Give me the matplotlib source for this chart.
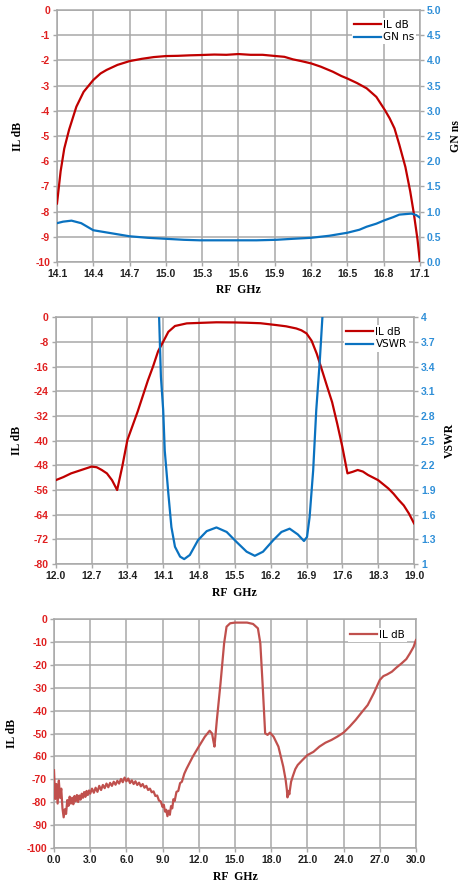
import numpy as np
import matplotlib
matplotlib.use('Agg')
import matplotlib.pyplot as plt

# Chart 1: IL and group delay, 14.1-17.1 GHz
f1 = [14.10, 14.13, 14.16, 14.20, 14.26, 14.32, 14.40, 14.46, 14.51, 14.60, 14.70, 14.80,
      14.90, 15.00, 15.10, 15.20, 15.28, 15.40, 15.50, 15.60, 15.70, 15.80, 15.91, 15.98,
      16.05, 16.12, 16.20, 16.28, 16.38, 16.45, 16.50, 16.58, 16.66, 16.74, 16.81, 16.85,
      16.89, 16.93, 16.98, 17.02, 17.05, 17.08, 17.10]
il1 = [-7.68, -6.40, -5.50, -4.75, -3.84, -3.25, -2.78, -2.52, -2.38, -2.18, -2.03, -1.94,
       -1.87, -1.83, -1.82, -1.80, -1.79, -1.77, -1.78, -1.75, -1.78, -1.78, -1.83, -1.86,
       -1.96, -2.03, -2.12, -2.25, -2.45, -2.62, -2.72, -2.90, -3.11, -3.45, -3.97, -4.30,
       -4.70, -5.35, -6.23, -7.20, -8.08, -9.10, -10.0]
f1g = [14.10, 14.15, 14.22, 14.30, 14.40, 14.55, 14.70, 14.85, 15.00, 15.15, 15.28, 15.45,
       15.56, 15.75, 15.91, 16.05, 16.20, 16.35, 16.50, 16.60, 16.66, 16.74, 16.81, 16.88,
       16.93, 16.98, 17.03, 17.07, 17.10]
gn1 = [0.77, 0.80, 0.82, 0.77, 0.63, 0.57, 0.51, 0.48, 0.46, 0.44, 0.43, 0.43,
       0.43, 0.43, 0.44, 0.46, 0.48, 0.52, 0.58, 0.64, 0.70, 0.76, 0.83, 0.89,
       0.94, 0.95, 0.96, 0.93, 0.88]

# Chart 2: IL and VSWR, 12-19 GHz
f2 = [12.0, 12.15, 12.3, 12.5, 12.7, 12.8, 12.9, 13.0, 13.1, 13.2, 13.3, 13.4, 13.5, 13.6,
      13.8, 13.9, 14.0, 14.1, 14.2, 14.33, 14.56, 14.8, 15.14, 15.5, 15.73, 16.0, 16.31,
      16.5, 16.7, 16.8, 16.9, 17.0, 17.1, 17.2, 17.3, 17.4, 17.5, 17.6, 17.7, 17.8, 17.9,
      18.0, 18.1, 18.3, 18.5, 18.6, 18.7, 18.8, 18.9, 19.0]
il2 = [-52.8, -51.8, -50.6, -49.5, -48.4, -48.6, -49.5, -50.6, -52.8, -56.0, -48.4, -39.8,
       -35.2, -30.6, -20.5, -16.0, -11.0, -7.9, -4.7, -2.8, -1.95, -1.8, -1.6, -1.65, -1.74,
       -1.9, -2.5, -2.9, -3.6, -4.2, -5.2, -7.6, -11.8, -17.0, -22.3, -27.5, -34.5, -42.0,
       -50.6, -50.1, -49.5, -50.0, -51.1, -52.8, -55.5, -57.2, -59.2, -61.0, -63.6, -66.8]
f2v = [13.99, 14.02, 14.055, 14.1, 14.13, 14.2, 14.26, 14.33, 14.43, 14.51, 14.62, 14.78,
       14.95, 15.14, 15.34, 15.53, 15.73, 15.89, 16.05, 16.25, 16.41, 16.57, 16.73, 16.85,
       16.91, 16.96, 17.03, 17.09, 17.16, 17.21, 17.24]
vswr2 = [4.4, 4.0, 3.28, 2.87, 2.38, 1.86, 1.45, 1.21, 1.09, 1.06, 1.11, 1.29,
         1.40, 1.445, 1.39, 1.27, 1.15, 1.10, 1.15, 1.29, 1.39, 1.43, 1.36, 1.28,
         1.33, 1.57, 2.14, 2.87, 3.48, 4.0, 4.4]

# Chart 3: wideband IL, 0-30 GHz
f3 = [0.0, 0.1, 0.2, 0.3, 0.4, 0.5, 0.6, 0.7, 0.8, 0.9, 1.0, 1.1, 1.2, 1.3, 1.4, 1.5, 1.6,
      1.7, 1.8, 1.9, 2.0, 2.1, 2.2, 2.3, 2.4, 2.5, 2.6, 2.7, 2.8, 2.9, 3.0, 3.15, 3.3, 3.45,
      3.6, 3.75, 3.9, 4.05, 4.2, 4.35, 4.5, 4.65, 4.8, 4.95, 5.1, 5.25, 5.4, 5.55, 5.7, 5.85,
      6.0, 6.15, 6.3, 6.45, 6.6, 6.75, 6.9, 7.05, 7.2, 7.35, 7.5, 7.65, 7.8, 7.95, 8.1, 8.25,
      8.4, 8.55, 8.7, 8.85, 9.0, 9.1, 9.2, 9.3, 9.4, 9.5, 9.6, 9.7, 9.8, 9.9, 10.0, 10.15,
      10.3, 10.45, 10.6, 10.8, 11.0, 11.5, 12.0, 12.5, 12.9, 13.1, 13.2, 13.3, 13.5, 13.8,
      14.1, 14.3, 14.6, 15.0, 16.0, 16.5, 16.9, 17.1, 17.3, 17.5, 17.7, 17.9, 18.2, 18.6,
      19.0, 19.2, 19.3, 19.35, 19.45, 19.5, 19.65, 19.8, 20.0, 20.2, 20.6, 21.0, 21.5,
      22.0, 22.5, 23.0, 23.5, 24.0, 24.5, 25.0, 25.5, 26.0, 26.5, 27.0, 27.3, 27.6, 28.0,
      28.4, 28.8, 29.2, 29.5, 29.8, 30.0]
il3 = [-66.0, -78.5, -72.0, -80.5, -70.5, -78.0, -74.0, -82.5, -86.5, -83.0, -85.0,
       -79.0, -81.5, -77.5, -80.5, -78.0, -80.8, -77.2, -79.5, -76.8, -79.8, -77.0, -78.8,
       -76.2, -78.0, -75.5, -77.6, -75.0, -76.8, -74.8, -76.2, -74.0, -75.8, -73.6, -75.4,
       -72.8, -74.6, -72.4, -73.8, -71.8, -73.4, -71.5, -72.8, -71.0, -72.3, -70.6, -71.8,
       -69.8, -71.2, -69.2, -70.8, -69.6, -71.6, -70.4, -72.0, -70.8, -72.4, -71.4, -73.0,
       -72.0, -73.6, -72.8, -74.6, -74.0, -75.6, -75.2, -77.2, -77.0, -79.2, -79.6, -82.0,
       -81.0, -84.0, -83.2, -86.0, -83.6, -85.4, -81.6, -82.6, -78.6, -79.4, -75.4, -75.0,
       -71.6, -71.0, -67.5, -65.2, -60.1, -55.7, -51.4, -48.8, -50.0, -53.0, -55.7, -44.0,
       -28.2, -10.7, -3.5, -2.0, -1.7, -1.7, -2.3, -4.2, -10.7, -29.5, -49.9, -50.6, -49.6,
       -51.4, -55.7, -64.4, -70.2, -74.5, -77.8, -75.0, -76.5, -71.0, -68.5, -65.5, -63.7,
       -61.5, -59.4, -58.0, -55.7, -54.0, -52.8, -51.3, -49.6, -47.0, -44.1, -40.8, -37.6,
       -32.5, -26.7, -25.0, -24.3, -23.1, -21.2, -19.5, -17.6, -15.1, -12.3, -9.3]

red = '#c00000'
red3 = '#c0504d'
blue = '#0a72c0'
tick_red = '#e02020'
tick_blue = '#2f8fd8'
grid_col = '#a8a8a8'

fig = plt.figure(figsize=(4.75, 8.96), dpi=100)

tick_font = dict(family='Liberation Sans', weight='bold', size=7.5)
label_font = dict(family='Liberation Serif', weight='bold', size=8.5)


def style_axes(ax, xticks, yticks, ylim, xfmt, yfmt):
    ax.set_xlim(xticks[0], xticks[-1])
    ax.set_ylim(*ylim)
    ax.set_xticks(xticks)
    ax.set_yticks(yticks)
    ax.set_xticklabels([xfmt % v for v in xticks], fontdict=tick_font)
    ax.set_yticklabels([yfmt % v for v in yticks], fontdict=tick_font)
    ax.grid(True, color=grid_col, linewidth=1.1)
    ax.set_axisbelow(True)
    for s in ax.spines.values():
        s.set_color(grid_col)
        s.set_linewidth(1.1)
    ax.tick_params(axis='both', colors=grid_col, length=3, width=1.0, pad=2)
    for t in ax.get_xticklabels():
        t.set_color('#202020')
    for t in ax.get_yticklabels():
        t.set_color(tick_red)


def style_right(ax2, yticks, labels, ylim):
    ax2.set_ylim(*ylim)
    ax2.set_yticks(yticks)
    ax2.set_yticklabels(labels, fontdict=tick_font)
    ax2.tick_params(axis='y', colors=grid_col, length=3, width=1.0, pad=2)
    for t in ax2.get_yticklabels():
        t.set_color(tick_blue)
    for s in ax2.spines.values():
        s.set_visible(False)


def legend(ax, handles, labels, loc_xy):
    lg = ax.legend(handles, labels, loc='upper right', bbox_to_anchor=loc_xy,
                   frameon=True, fancybox=False, framealpha=1, edgecolor='none',
                   prop=dict(family='DejaVu Sans', size=7.5), handlelength=2.6,
                   handletextpad=0.2, borderpad=0.2, labelspacing=0.25,
                   borderaxespad=0)
    lg.set_zorder(10)
    return lg


# ---- chart 1
ax1 = fig.add_axes([0.12, 0.7076, 0.764, 0.2813])
xt1 = np.round(np.arange(14.1, 17.11, 0.3), 1)
style_axes(ax1, xt1, np.arange(-10, 0.1, 1), (-10, 0), '%.1f', '%d')
l1, = ax1.plot(f1, il1, color=red, lw=1.6, zorder=3)
ax1b = ax1.twinx()
g1, = ax1b.plot(f1g, gn1, color=blue, lw=1.6, zorder=3)
yt = np.arange(0, 5.01, 0.5)
style_right(ax1b, yt, ['%.1f' % v for v in yt], (0, 5))
ax1b.set_xlim(14.1, 17.1)
legend(ax1b, [l1, g1], ['IL dB', 'GN ns'], (0.99, 0.97))
ax1.set_xlabel('RF  GHz', fontdict=label_font, labelpad=4)
ax1.set_ylabel('IL dB', fontdict=label_font, labelpad=8)
ax1b.set_ylabel('GN ns', fontdict=label_font, labelpad=6)

# ---- chart 2
ax2 = fig.add_axes([0.1173, 0.3705, 0.7543, 0.2753])
xt2 = np.round(np.arange(12.0, 19.01, 0.7), 1)
style_axes(ax2, xt2, np.arange(-80, 0.1, 8), (-80, 0), '%.1f', '%d')
l2, = ax2.plot(f2, il2, color=red, lw=1.6, zorder=3)
ax2b = ax2.twinx()
v2, = ax2b.plot(f2v, vswr2, color=blue, lw=1.6, zorder=3)
yt2 = np.round(np.arange(1.0, 4.01, 0.3), 1)
style_right(ax2b, yt2, ['%g' % v for v in yt2], (1, 4))
ax2b.set_xlim(12.0, 19.0)
legend(ax2b, [l2, v2], ['IL dB', 'VSWR'], (0.985, 0.97))
ax2.set_xlabel('RF  GHz', fontdict=label_font, labelpad=4)
ax2.set_ylabel('IL dB', fontdict=label_font, labelpad=8)
ax2b.set_ylabel('VSWR', fontdict=label_font, labelpad=6)

# ---- chart 3
ax3 = fig.add_axes([0.1137, 0.0532, 0.762, 0.2563])
xt3 = np.arange(0, 30.1, 3.0)
style_axes(ax3, xt3, np.arange(-100, 0.1, 10), (-100, 0), '%.1f', '%d')
l3, = ax3.plot(f3, il3, color=red3, lw=1.6, zorder=3)
legend(ax3, [l3], ['IL dB'], (0.975, 0.96))
ax3.set_xlabel('RF  GHz', fontdict=label_font, labelpad=4)
ax3.set_ylabel('IL dB', fontdict=label_font, labelpad=6)

fig.savefig('out.png', dpi=100)
